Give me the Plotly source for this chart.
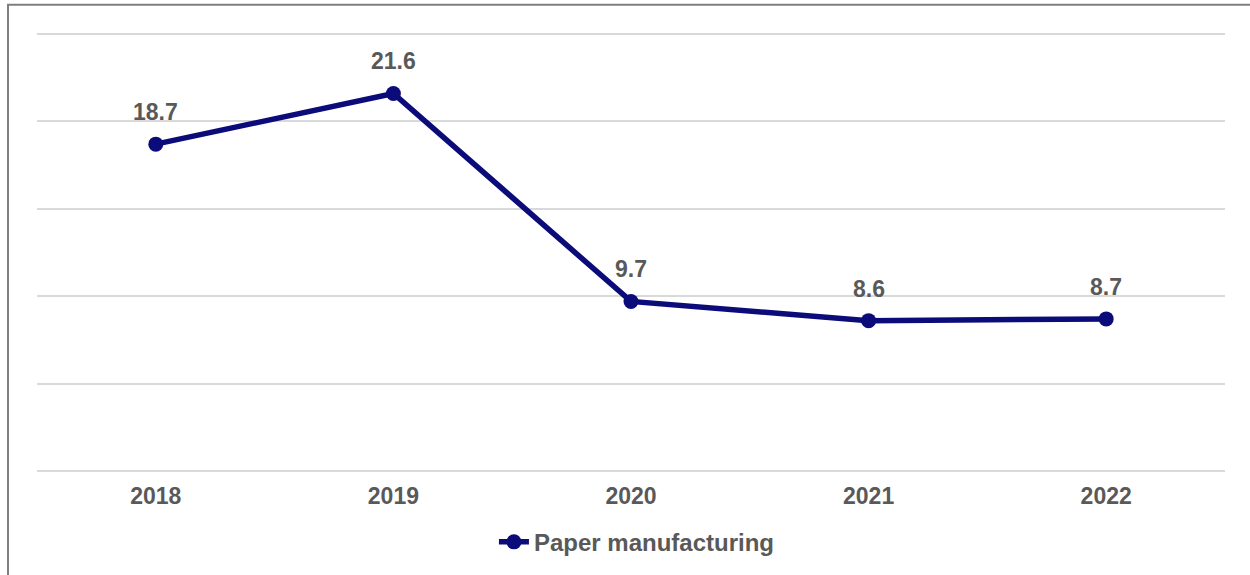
import plotly.graph_objects as go

years = ["2018", "2019", "2020", "2021", "2022"]
paper_manufacturing = [18.7, 21.6, 9.7, 8.6, 8.7]
series_name = "Paper manufacturing"

NAVY = "#0B0B7A"
TEXT = "#595959"
FONT = "Liberation Sans"
FS = 23

fig = go.Figure()
fig.add_trace(go.Scatter(
    x=years, y=paper_manufacturing, mode="lines+markers", name=series_name,
    line=dict(color=NAVY, width=5.5),
    marker=dict(color=NAVY, size=15),
    hoverinfo="x+y",
))

annotations = []
for i, v in enumerate(paper_manufacturing):
    annotations.append(dict(
        x=i, y=v, xref="x", yref="y", text=f"{v:.1f}", showarrow=False,
        yshift=32, yanchor="middle",
        font=dict(family=FONT, size=FS, color=TEXT, weight="bold"),
    ))

fig.update_layout(
    width=1250, height=575,
    margin=dict(l=37, r=25, t=33, b=103, autoexpand=False),
    paper_bgcolor="white", plot_bgcolor="white",
    showlegend=True,
    legend=dict(
        orientation="h", x=0.505, xanchor="center", y=-0.16, yanchor="middle",
        font=dict(family=FONT, size=24, color=TEXT, weight="bold"),
    ),
    xaxis=dict(
        type="category", range=[-0.5, 4.5], showgrid=False, zeroline=False,
        showline=False, ticks="outside", ticklen=3, tickcolor="rgba(0,0,0,0)",
        tickfont=dict(family=FONT, size=FS, color=TEXT, weight="bold"),
        fixedrange=True,
    ),
    yaxis=dict(
        range=[-0.06, 25.06], dtick=5, tick0=0, showgrid=True, gridcolor="#D9D9D9",
        gridwidth=2, zeroline=False, showticklabels=False, showline=False,
        fixedrange=True,
    ),
    annotations=annotations,
    shapes=[dict(
        type="rect", xref="paper", yref="paper",
        x0=-0.0244, x1=1.5, y0=-1.0, y1=1.0643,
        line=dict(color="#7F7F7F", width=2), fillcolor="rgba(0,0,0,0)",
        layer="below",
    )],
)

fig.write_html("out.html")
